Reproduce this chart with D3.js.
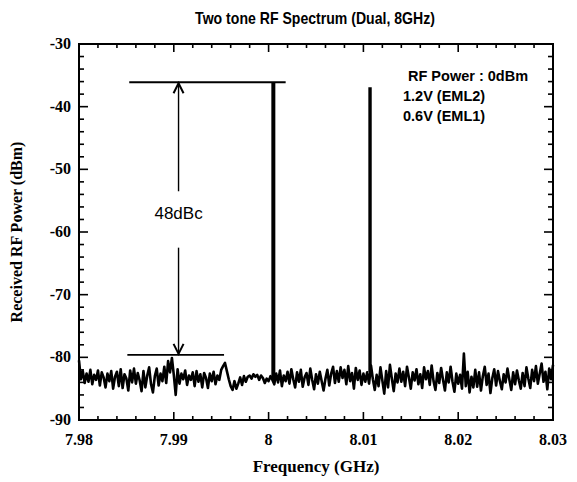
<!DOCTYPE html>
<html>
<head>
<meta charset="utf-8">
<script src="https://cdn.jsdelivr.net/npm/d3@7"></script>
<style>
  body { margin: 0; background: #fff; }
  svg { display: block; }
</style>
</head>
<body>
<div id="chart"></div>
<script>
// noise floor, one value every 0.0002 GHz from 7.980 to 8.030
const freqStart = 7.98;
const freqStep = 0.0002;
const noise = [
  -80.5, -83.5, -82.2, -84.1, -82.6, -83.9, -82.0, -84.3, -82.8, -83.6,
  -82.1, -84.5, -82.4, -83.2, -84.8, -82.6, -83.8, -82.2, -85.0, -83.1,
  -82.3, -84.6, -81.9, -84.9, -82.7, -83.4, -85.3, -82.1, -84.0, -81.8,
  -84.2, -82.5, -83.7, -85.4, -82.2, -84.8, -82.9, -81.6, -84.3, -85.6,
  -83.0, -81.8, -84.5, -82.6, -83.8, -81.5, -84.1, -80.6, -82.4, -80.1,
  -82.8, -86.0, -81.9, -84.2, -82.6, -83.5, -82.1, -84.4, -82.9, -83.6,
  -82.4, -84.6, -82.2, -83.9, -82.7, -84.8, -82.5, -83.3, -84.9, -82.6,
  -83.8, -82.3, -84.3, -82.9, -83.6, -82.0, -81.4, -80.9, -82.2, -83.5,
  -84.6, -85.2, -83.8, -85.0, -84.2, -83.2, -84.4, -83.0, -83.9, -83.1,
  -82.9, -83.4, -82.7, -83.1, -82.8, -83.6, -82.9, -83.3, -84.1, -83.4,
  -83.8, -83.0, -83.6, -84.3, -82.6, -84.0, -82.1, -84.6, -82.9, -83.8,
  -82.3, -84.2, -81.9, -83.5, -84.8, -82.4, -83.9, -82.0, -84.7, -83.2,
  -82.5, -84.4, -81.8, -83.6, -85.1, -82.7, -84.2, -82.3, -83.8, -85.3,
  -83.4, -82.0, -84.5, -82.6, -81.5, -84.1, -82.2, -83.9, -81.6, -83.3,
  -82.0, -84.3, -81.4, -83.8, -82.5, -85.0, -81.7, -83.6, -82.1, -84.4,
  -82.6, -83.9, -82.4, -84.2, -81.3, -83.5, -85.2, -82.8, -84.6, -81.6,
  -83.7, -85.8, -82.2, -84.8, -81.2, -83.4, -85.4, -82.6, -84.0, -81.8,
  -83.9, -82.3, -84.6, -81.5, -83.2, -85.0, -82.4, -83.7, -81.9, -84.3,
  -82.7, -84.9, -81.6, -83.5, -82.2, -84.4, -81.3, -83.8, -85.2, -82.5,
  -84.1, -81.7, -83.6, -85.3, -82.4, -84.0, -81.5, -83.9, -85.5, -82.6,
  -84.2, -82.8, -85.0, -79.4, -84.6, -82.3, -85.6, -83.1, -84.8, -82.0,
  -84.7, -82.4, -85.3, -83.0, -81.5, -84.4, -82.6, -85.7, -83.3, -81.9,
  -84.5, -82.2, -83.8, -85.1, -82.7, -84.0, -81.8, -83.6, -85.2, -82.4,
  -84.3, -82.1, -83.7, -85.0, -82.5, -84.6, -81.6, -83.4, -84.9, -82.0,
  -83.8, -81.4, -84.2, -82.6, -81.0, -83.9, -82.3, -85.1, -81.8, -83.5,
  -81.2
];

// the two tones
const toneFreq = [8.0005, 8.0107];
const tonePeak = [-36.1, -36.9];
const toneFloor = [-83.6, -82.4];

// 48 dBc marker
const markTop = { f0: 7.9853, f1: 8.0018, level: -36.1 };
const markBottom = { f0: 7.9851, f1: 7.9953, level: -79.6 };
const markFreq = 7.9905;
const markLabel = "48dBc";

const xTicks = [7.98, 7.99, 8, 8.01, 8.02, 8.03];
const yTicks = [-90, -80, -70, -60, -50, -40, -30];
const notes = ["RF Power : 0dBm", "1.2V (EML2)", "0.6V (EML1)"];

const width = 577, height = 482;
const margin = { top: 44, left: 79, bottom: 62, right: 24 };

const svg = d3.select("#chart").append("svg")
  .attr("width", width).attr("height", height);

const x = d3.scaleLinear().domain([7.98, 8.03]).range([margin.left, width - margin.right]);
const y = d3.scaleLinear().domain([-90, -30]).range([height - margin.bottom, margin.top]);

const x0 = x.range()[0], x1 = x.range()[1];
const y0 = y.range()[0], y1 = y.range()[1];

// minor and major ticks, pointing inward on all four sides
const xMinor = d3.range(0, 26).map(i => 7.98 + i * 0.002);
const yMinor = d3.range(0, 31).map(i => -90 + i * 2);
const tickG = svg.append("g").attr("stroke", "#000").attr("stroke-width", 1.6);
xMinor.forEach(v => {
  const major = xTicks.some(t => Math.abs(t - v) < 1e-6);
  const len = major ? 8 : 4;
  tickG.append("line").attr("x1", x(v)).attr("x2", x(v)).attr("y1", y0).attr("y2", y0 - len);
  tickG.append("line").attr("x1", x(v)).attr("x2", x(v)).attr("y1", y1).attr("y2", y1 + len);
});
yMinor.forEach(v => {
  const major = yTicks.includes(v);
  const len = major ? 9 : 5;
  tickG.append("line").attr("x1", x0).attr("x2", x0 + len).attr("y1", y(v)).attr("y2", y(v));
  tickG.append("line").attr("x1", x1).attr("x2", x1 - len).attr("y1", y(v)).attr("y2", y(v));
});

// spectrum
const line = d3.line().x(d => x(d[0])).y(d => y(d[1]));
const pts = noise.map((v, i) => [freqStart + i * freqStep, v]);
svg.append("path").datum(pts)
  .attr("d", line)
  .attr("fill", "none")
  .attr("stroke", "#000")
  .attr("stroke-width", 2.6)
  .attr("stroke-linejoin", "round");

toneFreq.forEach((f, i) => {
  svg.append("line")
    .attr("x1", x(f)).attr("x2", x(f))
    .attr("y1", y(toneFloor[i])).attr("y2", y(tonePeak[i]))
    .attr("stroke", "#000")
    .attr("stroke-width", i === 0 ? 4 : 3.4);
});

// annotation
const ann = svg.append("g").attr("stroke", "#000").attr("fill", "none");
ann.append("line").attr("stroke-width", 2)
  .attr("x1", x(markTop.f0)).attr("x2", x(markTop.f1))
  .attr("y1", y(markTop.level)).attr("y2", y(markTop.level));
ann.append("line").attr("stroke-width", 1.8)
  .attr("x1", x(markBottom.f0)).attr("x2", x(markBottom.f1))
  .attr("y1", y(markBottom.level)).attr("y2", y(markBottom.level));

const ax = x(markFreq);
const aTop = y(markTop.level), aBot = y(markBottom.level);
ann.append("line").attr("stroke-width", 1.4)
  .attr("x1", ax).attr("x2", ax).attr("y1", aTop).attr("y2", y(-53.5));
ann.append("line").attr("stroke-width", 1.4)
  .attr("x1", ax).attr("x2", ax).attr("y1", y(-62.5)).attr("y2", aBot);
ann.append("path").attr("stroke-width", 2)
  .attr("d", `M${ax - 5},${aTop + 11}L${ax},${aTop + 1}L${ax + 5},${aTop + 11}`);
ann.append("path").attr("stroke-width", 2)
  .attr("d", `M${ax - 5},${aBot - 11}L${ax},${aBot - 1}L${ax + 5},${aBot - 11}`);

svg.append("text")
  .attr("x", ax).attr("y", y(-57) + 6)
  .attr("text-anchor", "middle")
  .attr("font-family", "'Liberation Sans', Arial, sans-serif")
  .attr("font-size", 17)
  .text(markLabel);

// frame
svg.append("rect")
  .attr("x", x0).attr("y", y1)
  .attr("width", x1 - x0).attr("height", y0 - y1)
  .attr("fill", "none").attr("stroke", "#000").attr("stroke-width", 2);

// tick labels
const serif = "'Liberation Serif', 'Times New Roman', serif";
const sans = "'Liberation Sans', Arial, sans-serif";
svg.append("g").selectAll("text").data(xTicks).join("text")
  .attr("x", d => x(d)).attr("y", y0 + 25)
  .attr("text-anchor", "middle")
  .attr("font-family", serif).attr("font-weight", "bold").attr("font-size", 16)
  .text(d => d3.format("")(d));
svg.append("g").selectAll("text").data(yTicks).join("text")
  .attr("x", x0 - 8).attr("y", d => y(d) + 5)
  .attr("text-anchor", "end")
  .attr("font-family", serif).attr("font-weight", "bold").attr("font-size", 16)
  .text(d => d);

// titles (title is a narrow sans, so squeeze it horizontally)
svg.append("text")
  .attr("transform", "translate(315,24) scale(0.88,1)")
  .attr("text-anchor", "middle")
  .attr("font-family", sans).attr("font-weight", "bold").attr("font-size", 16)
  .text("Two tone RF Spectrum (Dual, 8GHz)");
svg.append("text")
  .attr("x", (x0 + x1) / 2).attr("y", 472)
  .attr("text-anchor", "middle")
  .attr("font-family", serif).attr("font-weight", "bold").attr("font-size", 17)
  .text("Frequency (GHz)");
svg.append("text")
  .attr("transform", `translate(22,${(y0 + y1) / 2}) rotate(-90)`)
  .attr("text-anchor", "middle")
  .attr("font-family", serif).attr("font-weight", "bold").attr("font-size", 16)
  .text("Received RF Power (dBm)");

// notes
const noteX = [408, 403, 403];
const noteY = [81, 101, 121];
notes.forEach((t, i) => {
  svg.append("text")
    .attr("x", noteX[i]).attr("y", noteY[i])
    .attr("font-family", sans).attr("font-weight", "bold").attr("font-size", 14.5)
    .text(t);
});
</script>
</body>
</html>
